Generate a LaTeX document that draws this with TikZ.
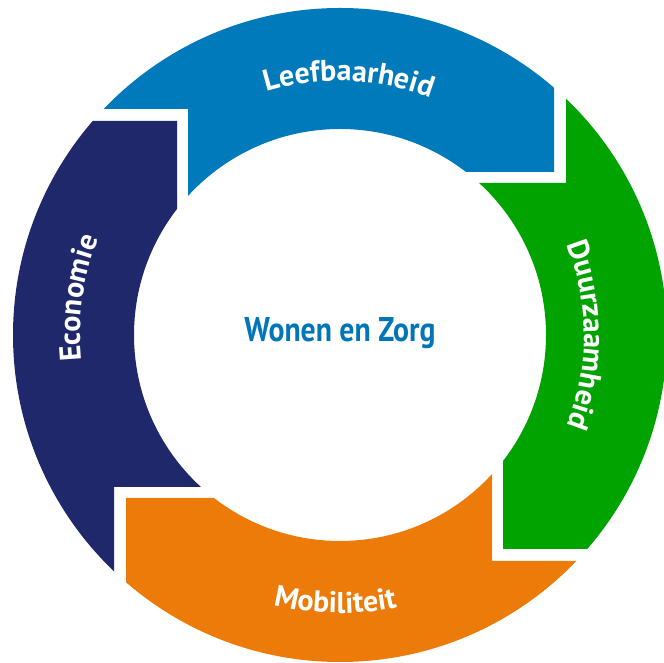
\documentclass[tikz,border=0pt]{standalone}
\usepackage{fontspec}
\usepackage{graphicx}
\usetikzlibrary{decorations.text}
\newfontfamily\lblfont{PT Sans}
\newcommand\lblstyle{\lblfont\bfseries\fontsize{30}{30}\selectfont}
\definecolor{navyc}{RGB}{31,40,106}
\definecolor{bluec}{RGB}{0,122,187}
\definecolor{greenc}{RGB}{1,163,1}
\definecolor{orangec}{RGB}{236,123,10}
\definecolor{titlec}{RGB}{0,118,184}
\tikzset{
  ringlabel/.style={decorate, decoration={text along path, text color=white, text align=center, text={|\lblstyle|#1}}}
}
\begin{document}
\begin{tikzpicture}[x=1pt,y=1pt]
\useasboundingbox (0,0) rectangle (664,663);
\fill[white] (0,0) rectangle (664,663);
\coordinate (C) at (340,328);
\foreach \col/\ang in {navyc/0,bluec/-90,greenc/-180,orangec/-270}{
  \begin{scope}[shift={(C)}, rotate=\ang]
    \clip (-400,214) -- (-163,214) -- (-163,0) -- (0,0) -- (0,-152) -- (-226,-152) -- (-226,-400) -- (-400,-400) -- cycle;
    \fill[\col, even odd rule] (0,0) circle[radius=327] (0,0) circle[radius=206];
  \end{scope}
}
\begin{scope}[shift={(C)}]
  \path[ringlabel=Leefbaarheid] (148:254) arc[start angle=148, end angle=28, radius=254];
  \path[ringlabel=Duurzaamheid] (60:244) arc[start angle=60, end angle=-60, radius=244];
  \path[ringlabel=Mobiliteit] (209:278) arc[start angle=209, end angle=329, radius=278];
  \path[ringlabel=Economie] (232:260) arc[start angle=232, end angle=112, radius=260];
\end{scope}
\node[anchor=base, inner sep=0pt, text=titlec] (title) at (340,321) {\resizebox{191pt}{24pt}{\lblfont\bfseries Wonen en Zorg}};
\end{tikzpicture}
\end{document}
